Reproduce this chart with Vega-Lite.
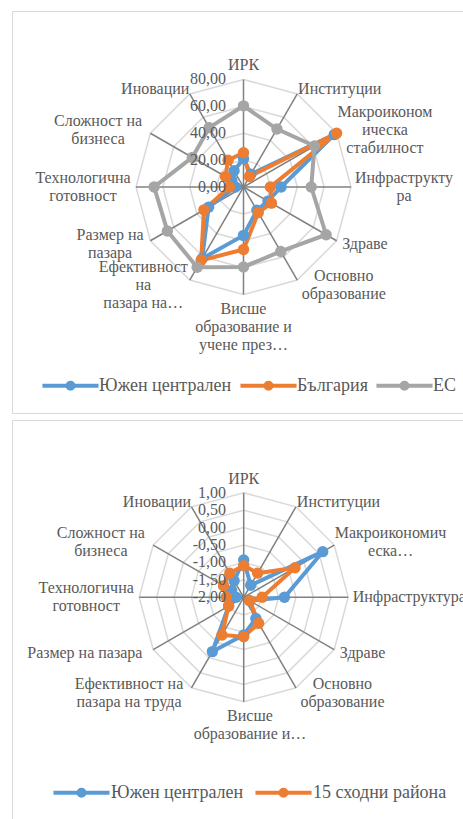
{
"$schema": "https://vega.github.io/schema/vega-lite/v6.json",
"background": "white",
"padding": {"left": 11, "top": 10, "right": 0, "bottom": 0},
"spacing": 5,
"config": {"view": {"stroke": "#d9d9d9", "strokeWidth": 1}, "locale": {"number": {"decimal": ",", "thousands": " ", "grouping": [3], "currency": ["", ""], "minus": "-"}}},
"resolve": {"scale": {"color": "independent"}},
"datasets": {
"axesTop": [
{"k": 0, "cat": "ИРК", "label": "ИРК"},
{"k": 1, "cat": "Институции", "label": "Институции"},
{"k": 2, "cat": "Макроикономическа стабилност", "label": "Макроиконом\nическа\nстабилност"},
{"k": 3, "cat": "Инфраструктура", "label": "Инфраструкту\nра"},
{"k": 4, "cat": "Здраве", "label": "Здраве"},
{"k": 5, "cat": "Основно образование", "label": "Основно\nобразование"},
{"k": 6, "cat": "Висше образование и учене през целия живот", "label": "Висше\nобразование и\nучене през…"},
{"k": 7, "cat": "Ефективност на пазара на труда", "label": "Ефективност\nна\nпазара на…"},
{"k": 8, "cat": "Размер на пазара", "label": "Размер на\nпазара"},
{"k": 9, "cat": "Технологична готовност", "label": "Технологична\nготовност"},
{"k": 10, "cat": "Сложност на бизнеса", "label": "Сложност  на\nбизнеса"},
{"k": 11, "cat": "Иновации", "label": "Иновации"}
],
"axesBot": [
{"k": 0, "cat": "ИРК", "label": "ИРК"},
{"k": 1, "cat": "Институции", "label": "Институции"},
{"k": 2, "cat": "Макроикономическа стабилност", "label": "Макроикономич\nеска…"},
{"k": 3, "cat": "Инфраструктура", "label": "Инфраструктура"},
{"k": 4, "cat": "Здраве", "label": "Здраве"},
{"k": 5, "cat": "Основно образование", "label": "Основно\nобразование"},
{"k": 6, "cat": "Висше образование и учене през целия живот", "label": "Висше\nобразование и…"},
{"k": 7, "cat": "Ефективност на пазара на труда", "label": "Ефективност на\nпазара на труда"},
{"k": 8, "cat": "Размер на пазара", "label": "Размер на пазара"},
{"k": 9, "cat": "Технологична готовност", "label": "Технологична\nготовност"},
{"k": 10, "cat": "Сложност на бизнеса", "label": "Сложност  на\nбизнеса"},
{"k": 11, "cat": "Иновации", "label": "Иновации"}
],
"ringsTop": [
{"v": 20, "k": [0,1,2,3,4,5,6,7,8,9,10,11]},
{"v": 40, "k": [0,1,2,3,4,5,6,7,8,9,10,11]},
{"v": 60, "k": [0,1,2,3,4,5,6,7,8,9,10,11]},
{"v": 80, "k": [0,1,2,3,4,5,6,7,8,9,10,11]}
],
"ringsBot": [
{"v": -1.5, "k": [0,1,2,3,4,5,6,7,8,9,10,11]},
{"v": -1, "k": [0,1,2,3,4,5,6,7,8,9,10,11]},
{"v": -0.5, "k": [0,1,2,3,4,5,6,7,8,9,10,11]},
{"v": 0, "k": [0,1,2,3,4,5,6,7,8,9,10,11]},
{"v": 0.5, "k": [0,1,2,3,4,5,6,7,8,9,10,11]},
{"v": 1, "k": [0,1,2,3,4,5,6,7,8,9,10,11]}
],
"ticksTop": [{"v": 0}, {"v": 20}, {"v": 40}, {"v": 60}, {"v": 80}],
"ticksBot": [{"v": -2}, {"v": -1.5}, {"v": -1}, {"v": -0.5}, {"v": 0}, {"v": 0.5}, {"v": 1}],
"top": [
{"cat": "ИРК", "series": "Южен централен", "value": 21},
{"cat": "Институции", "series": "Южен централен", "value": 11},
{"cat": "Макроикономическа стабилност", "series": "Южен централен", "value": 78},
{"cat": "Инфраструктура", "series": "Южен централен", "value": 28},
{"cat": "Здраве", "series": "Южен централен", "value": 21},
{"cat": "Основно образование", "series": "Южен централен", "value": 20},
{"cat": "Висше образование и учене през целия живот", "series": "Южен централен", "value": 36},
{"cat": "Ефективност на пазара на труда", "series": "Южен централен", "value": 61.5},
{"cat": "Размер на пазара", "series": "Южен централен", "value": 30},
{"cat": "Технологична готовност", "series": "Южен централен", "value": 6},
{"cat": "Сложност на бизнеса", "series": "Южен централен", "value": 10},
{"cat": "Иновации", "series": "Южен централен", "value": 14},
{"cat": "ИРК", "series": "България", "value": 25.5},
{"cat": "Институции", "series": "България", "value": 9},
{"cat": "Макроикономическа стабилност", "series": "България", "value": 80},
{"cat": "Инфраструктура", "series": "България", "value": 20},
{"cat": "Здраве", "series": "България", "value": 24},
{"cat": "Основно образование", "series": "България", "value": 22},
{"cat": "Висше образование и учене през целия живот", "series": "България", "value": 46.5},
{"cat": "Ефективност на пазара на труда", "series": "България", "value": 63},
{"cat": "Размер на пазара", "series": "България", "value": 34},
{"cat": "Технологична готовност", "series": "България", "value": 10.5},
{"cat": "Сложност на бизнеса", "series": "България", "value": 15.5},
{"cat": "Иновации", "series": "България", "value": 23},
{"cat": "ИРК", "series": "ЕС", "value": 60.4},
{"cat": "Институции", "series": "ЕС", "value": 49.8},
{"cat": "Макроикономическа стабилност", "series": "ЕС", "value": 61},
{"cat": "Инфраструктура", "series": "ЕС", "value": 50.4},
{"cat": "Здраве", "series": "ЕС", "value": 71},
{"cat": "Основно образование", "series": "ЕС", "value": 55.4},
{"cat": "Висше образование и учене през целия живот", "series": "ЕС", "value": 59.5},
{"cat": "Ефективност на пазара на труда", "series": "ЕС", "value": 69},
{"cat": "Размер на пазара", "series": "ЕС", "value": 65.4},
{"cat": "Технологична готовност", "series": "ЕС", "value": 66.5},
{"cat": "Сложност на бизнеса", "series": "ЕС", "value": 44},
{"cat": "Иновации", "series": "ЕС", "value": 51}
],
"bot": [
{"cat": "ИРК", "series": "Южен централен", "value": -0.93},
{"cat": "Институции", "series": "Южен централен", "value": -1.6},
{"cat": "Макроикономическа стабилност", "series": "Южен централен", "value": 0.62},
{"cat": "Инфраструктура", "series": "Южен централен", "value": -0.83},
{"cat": "Здраве", "series": "Южен централен", "value": -1.8},
{"cat": "Основно образование", "series": "Южен централен", "value": -1.3},
{"cat": "Висше образование и учене през целия живот", "series": "Южен централен", "value": -0.92},
{"cat": "Ефективност на пазара на труда", "series": "Южен централен", "value": -0.2},
{"cat": "Размер на пазара", "series": "Южен централен", "value": -1.5},
{"cat": "Технологична готовност", "series": "Южен централен", "value": -1.78},
{"cat": "Сложност на бизнеса", "series": "Южен централен", "value": -1.6},
{"cat": "Иновации", "series": "Южен централен", "value": -1.45},
{"cat": "ИРК", "series": "15 сходни района", "value": -1.09},
{"cat": "Институции", "series": "15 сходни района", "value": -1.2},
{"cat": "Макроикономическа стабилност", "series": "15 сходни района", "value": -0.3},
{"cat": "Инфраструктура", "series": "15 сходни района", "value": -1.47},
{"cat": "Здраве", "series": "15 сходни района", "value": -1.8},
{"cat": "Основно образование", "series": "15 сходни района", "value": -1.14},
{"cat": "Висше образование и учене през целия живот", "series": "15 сходни района", "value": -0.87},
{"cat": "Ефективност на пазара на труда", "series": "15 сходни района", "value": -0.75},
{"cat": "Размер на пазара", "series": "15 сходни района", "value": -1.5},
{"cat": "Технологична готовност", "series": "15 сходни района", "value": -1.5},
{"cat": "Сложност на бизнеса", "series": "15 сходни района", "value": -1.33},
{"cat": "Иновации", "series": "15 сходни района", "value": -1.2}
]
},
"vconcat": [
{
"width": 452, "height": 402,
"layer": [
{"data": {"name": "ringsTop"},
 "transform": [{"flatten": ["k"]}, {"calculate": "datum.v/80", "as": "r"}, {"calculate": "datum.k*PI/6", "as": "a"}, {"calculate": "datum.r*sin(datum.a)", "as": "x"}, {"calculate": "datum.r*cos(datum.a)", "as": "y"}],
 "mark": {"type": "line", "interpolate": "linear-closed", "stroke": "#d9d9d9", "strokeWidth": 1.5},
 "encoding": {"x": {"field": "x", "type": "quantitative", "scale": {"domain": [-2.1535, 2.0512], "nice": false, "zero": false}, "axis": null},
  "y": {"field": "y", "type": "quantitative", "scale": {"domain": [-2.1023, 1.6372], "nice": false, "zero": false}, "axis": null},
  "detail": {"field": "v", "type": "nominal"}, "order": {"field": "k", "type": "quantitative"}}},
{"data": {"name": "axesTop"},
 "transform": [{"calculate": "datum.k*PI/6", "as": "a"}, {"calculate": "sin(datum.a)", "as": "ex"}, {"calculate": "cos(datum.a)", "as": "ey"}, {"calculate": "0", "as": "o"}],
 "mark": {"type": "rule", "stroke": "#808080", "strokeWidth": 1.5},
 "encoding": {"x": {"field": "o", "type": "quantitative", "scale": {"domain": [-2.1535, 2.0512], "nice": false, "zero": false}, "axis": null},
  "y": {"field": "o", "type": "quantitative", "scale": {"domain": [-2.1023, 1.6372], "nice": false, "zero": false}, "axis": null},
  "x2": {"field": "ex"}, "y2": {"field": "ey"}}},
{"data": {"name": "top"},
 "transform": [{"lookup": "cat", "from": {"data": {"name": "axesTop"}, "key": "cat", "fields": ["k"]}}, {"calculate": "datum.k*PI/6", "as": "a"}, {"calculate": "datum.value/80", "as": "r"}, {"calculate": "datum.r*sin(datum.a)", "as": "x"}, {"calculate": "datum.r*cos(datum.a)", "as": "y"}],
 "mark": {"type": "line", "interpolate": "linear-closed", "strokeWidth": 4},
 "encoding": {"x": {"field": "x", "type": "quantitative", "scale": {"domain": [-2.1535, 2.0512], "nice": false, "zero": false}, "axis": null},
  "y": {"field": "y", "type": "quantitative", "scale": {"domain": [-2.1023, 1.6372], "nice": false, "zero": false}, "axis": null},
  "order": {"field": "k", "type": "quantitative"},
  "color": {"field": "series", "type": "nominal", "scale": {"domain": ["Южен централен", "България", "ЕС"], "range": ["#5B9BD5", "#ED7D31", "#A5A5A5"]},
   "legend": {"orient": "none", "legendX": 32, "legendY": 348, "direction": "horizontal", "title": null, "symbolType": "M-1.15,0L1.15,0M-0.123,0A0.123,0.123,0,1,1,0.123,0A0.123,0.123,0,1,1,-0.123,0M-0.037,0A0.037,0.037,0,1,1,0.037,0A0.037,0.037,0,1,1,-0.037,0", "symbolSize": 2380, "symbolStrokeWidth": 4, "labelFont": "Liberation Serif", "labelFontSize": 18, "labelColor": "#595959", "labelOffset": 2, "columnPadding": 0}}}},
{"data": {"name": "top"},
 "transform": [{"lookup": "cat", "from": {"data": {"name": "axesTop"}, "key": "cat", "fields": ["k"]}}, {"calculate": "datum.k*PI/6", "as": "a"}, {"calculate": "datum.value/80", "as": "r"}, {"calculate": "datum.r*sin(datum.a)", "as": "x"}, {"calculate": "datum.r*cos(datum.a)", "as": "y"}],
 "mark": {"type": "point", "filled": true, "size": 130, "opacity": 1},
 "encoding": {"x": {"field": "x", "type": "quantitative", "scale": {"domain": [-2.1535, 2.0512], "nice": false, "zero": false}, "axis": null},
  "y": {"field": "y", "type": "quantitative", "scale": {"domain": [-2.1023, 1.6372], "nice": false, "zero": false}, "axis": null},
  "color": {"field": "series", "type": "nominal", "scale": {"domain": ["Южен централен", "България", "ЕС"], "range": ["#5B9BD5", "#ED7D31", "#A5A5A5"]}, "legend": null}}},
{"data": {"name": "ticksTop"},
 "transform": [{"calculate": "datum.v/80", "as": "y"}, {"calculate": "0", "as": "x"}],
 "mark": {"type": "text", "align": "right", "baseline": "middle", "dx": -17.5, "font": "Liberation Serif", "fontSize": 16, "color": "#595959"},
 "encoding": {"x": {"field": "x", "type": "quantitative", "scale": {"domain": [-2.1535, 2.0512], "nice": false, "zero": false}, "axis": null},
  "y": {"field": "y", "type": "quantitative", "scale": {"domain": [-2.1023, 1.6372], "nice": false, "zero": false}, "axis": null},
  "text": {"field": "v", "type": "quantitative", "format": ".2f"}}},
{"data": {"name": "axesTop"},
 "transform": [{"calculate": "datum.k*PI/6", "as": "a"}, {"calculate": "sin(datum.a)", "as": "s"}, {"calculate": "cos(datum.a)", "as": "c"}, {"calculate": "split(datum.label, '\\n')", "as": "parts"}, {"calculate": "max(length(datum.parts[0]), datum.parts[1] ? length(datum.parts[1]) : 0, datum.parts[2] ? length(datum.parts[2]) : 0)", "as": "lw"}, {"calculate": "((107.5+5)*datum.s + (abs(datum.s) < 0.01 ? 0 : (datum.s > 0 ? 1 : -1))*datum.lw*4.0)/107.5", "as": "lx"}, {"calculate": "((107.5+6)*datum.c + (length(datum.parts)-1)*9)/107.5", "as": "ly"}, {"filter": "datum.k != 0 && datum.k != 6"}],
 "mark": {"type": "text", "align": "center", "baseline": "middle", "lineBreak": "\n", "lineHeight": 18, "font": "Liberation Serif", "fontSize": 16, "color": "#595959"},
 "encoding": {"x": {"field": "lx", "type": "quantitative", "scale": {"domain": [-2.1535, 2.0512], "nice": false, "zero": false}, "axis": null},
  "y": {"field": "ly", "type": "quantitative", "scale": {"domain": [-2.1023, 1.6372], "nice": false, "zero": false}, "axis": null},
  "text": {"field": "label", "type": "nominal"}}},
{"data": {"name": "axesTop"},
 "transform": [{"filter": "datum.k == 0"}, {"calculate": "(107.5+6)/107.5", "as": "ly"}, {"calculate": "0", "as": "lx"}],
 "mark": {"type": "text", "align": "center", "baseline": "bottom", "lineBreak": "\n", "lineHeight": 18, "font": "Liberation Serif", "fontSize": 16, "color": "#595959"},
 "encoding": {"x": {"field": "lx", "type": "quantitative", "scale": {"domain": [-2.1535, 2.0512], "nice": false, "zero": false}, "axis": null},
  "y": {"field": "ly", "type": "quantitative", "scale": {"domain": [-2.1023, 1.6372], "nice": false, "zero": false}, "axis": null},
  "text": {"field": "label", "type": "nominal"}}},
{"data": {"name": "axesTop"},
 "transform": [{"filter": "datum.k == 6"}, {"calculate": "-(107.5+6)/107.5", "as": "ly"}, {"calculate": "0", "as": "lx"}],
 "mark": {"type": "text", "align": "center", "baseline": "top", "lineBreak": "\n", "lineHeight": 18, "font": "Liberation Serif", "fontSize": 16, "color": "#595959"},
 "encoding": {"x": {"field": "lx", "type": "quantitative", "scale": {"domain": [-2.1535, 2.0512], "nice": false, "zero": false}, "axis": null},
  "y": {"field": "ly", "type": "quantitative", "scale": {"domain": [-2.1023, 1.6372], "nice": false, "zero": false}, "axis": null},
  "text": {"field": "label", "type": "nominal"}}}
]
},
{
"width": 452, "height": 402,
"layer": [
{"data": {"name": "ringsBot"},
 "transform": [{"flatten": ["k"]}, {"calculate": "(datum.v+2)/3", "as": "r"}, {"calculate": "datum.k*PI/6", "as": "a"}, {"calculate": "datum.r*sin(datum.a)", "as": "x"}, {"calculate": "datum.r*cos(datum.a)", "as": "y"}],
 "mark": {"type": "line", "interpolate": "linear-closed", "stroke": "#d9d9d9", "strokeWidth": 1.5},
 "encoding": {"x": {"field": "x", "type": "quantitative", "scale": {"domain": [-2.2172, 2.1081], "nice": false, "zero": false}, "axis": null},
  "y": {"field": "y", "type": "quantitative", "scale": {"domain": [-2.1502, 1.6967], "nice": false, "zero": false}, "axis": null},
  "detail": {"field": "v", "type": "nominal"}, "order": {"field": "k", "type": "quantitative"}}},
{"data": {"name": "axesBot"},
 "transform": [{"calculate": "datum.k*PI/6", "as": "a"}, {"calculate": "sin(datum.a)", "as": "ex"}, {"calculate": "cos(datum.a)", "as": "ey"}, {"calculate": "0", "as": "o"}],
 "mark": {"type": "rule", "stroke": "#808080", "strokeWidth": 1.5},
 "encoding": {"x": {"field": "o", "type": "quantitative", "scale": {"domain": [-2.2172, 2.1081], "nice": false, "zero": false}, "axis": null},
  "y": {"field": "o", "type": "quantitative", "scale": {"domain": [-2.1502, 1.6967], "nice": false, "zero": false}, "axis": null},
  "x2": {"field": "ex"}, "y2": {"field": "ey"}}},
{"data": {"name": "bot"},
 "transform": [{"lookup": "cat", "from": {"data": {"name": "axesBot"}, "key": "cat", "fields": ["k"]}}, {"calculate": "datum.k*PI/6", "as": "a"}, {"calculate": "(datum.value+2)/3", "as": "r"}, {"calculate": "datum.r*sin(datum.a)", "as": "x"}, {"calculate": "datum.r*cos(datum.a)", "as": "y"}],
 "mark": {"type": "line", "interpolate": "linear-closed", "strokeWidth": 4},
 "encoding": {"x": {"field": "x", "type": "quantitative", "scale": {"domain": [-2.2172, 2.1081], "nice": false, "zero": false}, "axis": null},
  "y": {"field": "y", "type": "quantitative", "scale": {"domain": [-2.1502, 1.6967], "nice": false, "zero": false}, "axis": null},
  "order": {"field": "k", "type": "quantitative"},
  "color": {"field": "series", "type": "nominal", "scale": {"domain": ["Южен централен", "15 сходни района"], "range": ["#5B9BD5", "#ED7D31"]},
   "legend": {"orient": "none", "legendX": 43, "legendY": 346, "direction": "horizontal", "title": null, "symbolType": "M-1.15,0L1.15,0M-0.123,0A0.123,0.123,0,1,1,0.123,0A0.123,0.123,0,1,1,-0.123,0M-0.037,0A0.037,0.037,0,1,1,0.037,0A0.037,0.037,0,1,1,-0.037,0", "symbolSize": 2380, "symbolStrokeWidth": 4, "labelFont": "Liberation Serif", "labelFontSize": 18, "labelColor": "#595959", "labelOffset": 3, "columnPadding": 3}}}},
{"data": {"name": "bot"},
 "transform": [{"lookup": "cat", "from": {"data": {"name": "axesBot"}, "key": "cat", "fields": ["k"]}}, {"calculate": "datum.k*PI/6", "as": "a"}, {"calculate": "(datum.value+2)/3", "as": "r"}, {"calculate": "datum.r*sin(datum.a)", "as": "x"}, {"calculate": "datum.r*cos(datum.a)", "as": "y"}],
 "mark": {"type": "point", "filled": true, "size": 130, "opacity": 1},
 "encoding": {"x": {"field": "x", "type": "quantitative", "scale": {"domain": [-2.2172, 2.1081], "nice": false, "zero": false}, "axis": null},
  "y": {"field": "y", "type": "quantitative", "scale": {"domain": [-2.1502, 1.6967], "nice": false, "zero": false}, "axis": null},
  "color": {"field": "series", "type": "nominal", "scale": {"domain": ["Южен централен", "15 сходни района"], "range": ["#5B9BD5", "#ED7D31"]}, "legend": null}}},
{"data": {"name": "ticksBot"},
 "transform": [{"calculate": "(datum.v+2)/3", "as": "y"}, {"calculate": "0", "as": "x"}],
 "mark": {"type": "text", "align": "right", "baseline": "middle", "dx": -17.7, "font": "Liberation Serif", "fontSize": 16, "color": "#595959"},
 "encoding": {"x": {"field": "x", "type": "quantitative", "scale": {"domain": [-2.2172, 2.1081], "nice": false, "zero": false}, "axis": null},
  "y": {"field": "y", "type": "quantitative", "scale": {"domain": [-2.1502, 1.6967], "nice": false, "zero": false}, "axis": null},
  "text": {"field": "v", "type": "quantitative", "format": ".2f"}}},
{"data": {"name": "axesBot"},
 "transform": [{"calculate": "datum.k*PI/6", "as": "a"}, {"calculate": "sin(datum.a)", "as": "s"}, {"calculate": "cos(datum.a)", "as": "c"}, {"calculate": "split(datum.label, '\\n')", "as": "parts"}, {"calculate": "max(length(datum.parts[0]), datum.parts[1] ? length(datum.parts[1]) : 0, datum.parts[2] ? length(datum.parts[2]) : 0)", "as": "lw"}, {"calculate": "((104.5+5)*datum.s + (abs(datum.s) < 0.01 ? 0 : (datum.s > 0 ? 1 : -1))*datum.lw*4.0)/104.5", "as": "lx"}, {"calculate": "((104.5+6)*datum.c + (length(datum.parts)-1)*9)/104.5", "as": "ly"}, {"filter": "datum.k != 0 && datum.k != 6"}],
 "mark": {"type": "text", "align": "center", "baseline": "middle", "lineBreak": "\n", "lineHeight": 18, "font": "Liberation Serif", "fontSize": 16, "color": "#595959"},
 "encoding": {"x": {"field": "lx", "type": "quantitative", "scale": {"domain": [-2.2172, 2.1081], "nice": false, "zero": false}, "axis": null},
  "y": {"field": "ly", "type": "quantitative", "scale": {"domain": [-2.1502, 1.6967], "nice": false, "zero": false}, "axis": null},
  "text": {"field": "label", "type": "nominal"}}},
{"data": {"name": "axesBot"},
 "transform": [{"filter": "datum.k == 0"}, {"calculate": "(104.5+6)/104.5", "as": "ly"}, {"calculate": "0", "as": "lx"}],
 "mark": {"type": "text", "align": "center", "baseline": "bottom", "lineBreak": "\n", "lineHeight": 18, "font": "Liberation Serif", "fontSize": 16, "color": "#595959"},
 "encoding": {"x": {"field": "lx", "type": "quantitative", "scale": {"domain": [-2.2172, 2.1081], "nice": false, "zero": false}, "axis": null},
  "y": {"field": "ly", "type": "quantitative", "scale": {"domain": [-2.1502, 1.6967], "nice": false, "zero": false}, "axis": null},
  "text": {"field": "label", "type": "nominal"}}},
{"data": {"name": "axesBot"},
 "transform": [{"filter": "datum.k == 6"}, {"calculate": "-(104.5+6)/104.5", "as": "ly"}, {"calculate": "0.06", "as": "lx"}],
 "mark": {"type": "text", "align": "center", "baseline": "top", "lineBreak": "\n", "lineHeight": 18, "font": "Liberation Serif", "fontSize": 16, "color": "#595959"},
 "encoding": {"x": {"field": "lx", "type": "quantitative", "scale": {"domain": [-2.2172, 2.1081], "nice": false, "zero": false}, "axis": null},
  "y": {"field": "ly", "type": "quantitative", "scale": {"domain": [-2.1502, 1.6967], "nice": false, "zero": false}, "axis": null},
  "text": {"field": "label", "type": "nominal"}}}
]
}
]
}
